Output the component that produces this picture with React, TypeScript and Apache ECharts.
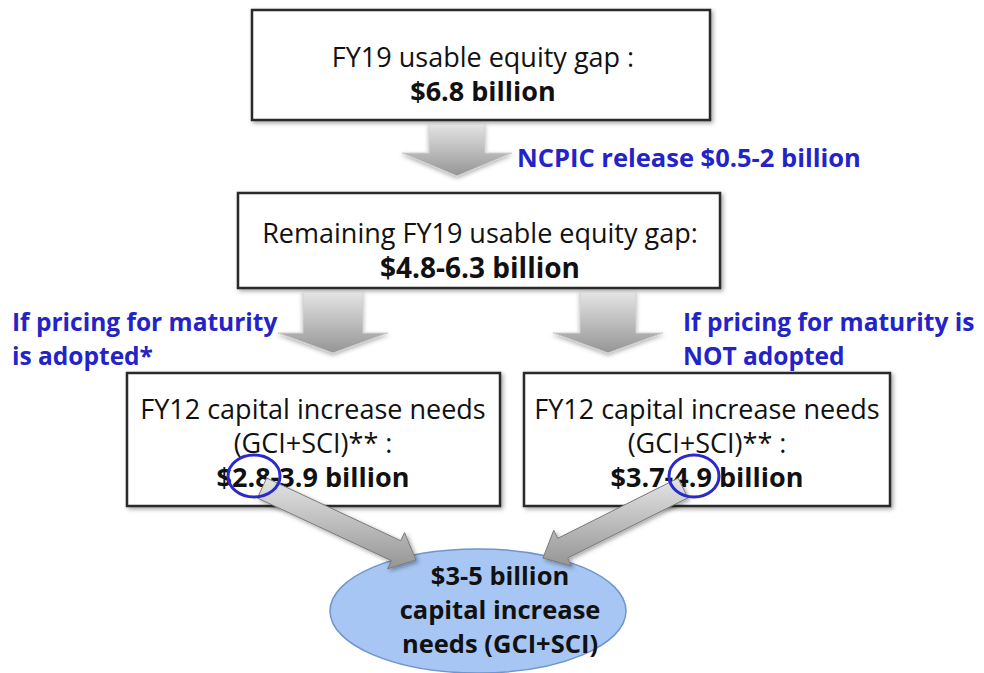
import React, { useEffect, useRef } from "react";
import * as echarts from "echarts";

const topBoxLines = ["FY19 usable equity gap :", "$6.8 billion"];
const midBoxLines = ["Remaining FY19 usable equity gap:", "$4.8-6.3 billion"];
const leftBoxLines = ["FY12 capital increase needs", "(GCI+SCI)** :", "$2.8-3.9 billion"];
const rightBoxLines = ["FY12 capital increase needs", "(GCI+SCI)** :", "$3.7-4.9 billion"];
const resultLines = ["$3-5 billion", "capital increase", "needs (GCI+SCI)"];
const releaseLabel = "NCPIC release $0.5-2 billion";
const leftBranchLines = ["If pricing for maturity", "is adopted*"];
const rightBranchLines = ["If pricing for maturity is", "NOT adopted"];

const FONT = "'Open Sans', Lato, sans-serif";
const BLUE = "#2323c8";

function txt(text: string, x: number, y: number, opts: any = {}) {
  return {
    type: "text",
    x,
    y,
    z: opts.z ?? 20,
    style: {
      text,
      fill: opts.fill ?? "#111",
      fontSize: opts.size ?? 27,
      fontWeight: opts.bold ? "bold" : "normal",
      fontFamily: FONT,
      align: opts.align ?? "center",
      verticalAlign: "middle",
      textAlign: opts.align ?? "center",
      textVerticalAlign: "middle",
    },
  };
}

function box(x: number, y: number, w: number, h: number) {
  return {
    type: "rect",
    z: 5,
    shape: { x, y, width: w, height: h },
    style: {
      fill: "#fff",
      stroke: "#2a2a2a",
      lineWidth: 2.5,
      shadowBlur: 4,
      shadowOffsetX: 2,
      shadowOffsetY: 2,
      shadowColor: "rgba(0,0,0,0.35)",
    },
  };
}

const grad = () =>
  new echarts.graphic.LinearGradient(0, 0, 0, 1, [
    { offset: 0, color: "#e4e4e4" },
    { offset: 0.5, color: "#bdbdbd" },
    { offset: 1, color: "#959595" },
  ]);

function downArrow(cx: number, top: number, shaftHalf: number, headTop: number, headHalf: number, tip: number) {
  return {
    type: "polygon",
    z: 8,
    shape: {
      points: [
        [cx - shaftHalf, top],
        [cx + shaftHalf, top],
        [cx + shaftHalf, headTop],
        [cx + headHalf, headTop],
        [cx, tip],
        [cx - headHalf, headTop],
        [cx - shaftHalf, headTop],
      ],
    },
    style: {
      fill: grad(),
      stroke: "#d0d0d0",
      lineWidth: 1,
      shadowBlur: 4,
      shadowOffsetY: 2,
      shadowColor: "rgba(0,0,0,0.3)",
    },
  };
}

function diagArrow(sx: number, sy: number, ex: number, ey: number, w: number, hw: number, hl: number) {
  const dx = ex - sx;
  const dy = ey - sy;
  const len = Math.sqrt(dx * dx + dy * dy);
  const ux = dx / len;
  const uy = dy / len;
  const nx = -uy;
  const ny = ux;
  const bx = ex - ux * hl;
  const by = ey - uy * hl;
  return {
    type: "polygon",
    z: 25,
    shape: {
      points: [
        [sx + nx * w, sy + ny * w],
        [bx + nx * w, by + ny * w],
        [bx + nx * hw, by + ny * hw],
        [ex, ey],
        [bx - nx * hw, by - ny * hw],
        [bx - nx * w, by - ny * w],
        [sx - nx * w, sy - ny * w],
      ],
    },
    style: {
      fill: grad(),
      stroke: "#7a7a7a",
      lineWidth: 1,
      shadowBlur: 4,
      shadowOffsetX: 2,
      shadowOffsetY: 2,
      shadowColor: "rgba(0,0,0,0.35)",
    },
  };
}

function circle(cx: number, cy: number, rx: number, ry: number) {
  return {
    type: "ellipse",
    z: 30,
    shape: { cx, cy, rx, ry },
    style: { fill: "none", stroke: "#2a2acc", lineWidth: 3 },
  };
}

export default function App() {
  const ref = useRef<HTMLDivElement>(null);
  useEffect(() => {
    if (!ref.current) return;
    const chart = echarts.init(ref.current, null, { renderer: "svg" });
    const elements: any[] = [];

    elements.push(box(252, 10, 458, 110));
    topBoxLines.forEach((t, i) => elements.push(txt(t, 483, 56 + i * 34, { bold: i === 1 })));

    elements.push(downArrow(457, 124, 28, 153, 55, 176));
    elements.push(txt(releaseLabel, 517, 157, { bold: true, fill: BLUE, align: "left", size: 25.5 }));

    elements.push(box(238, 193, 482, 95));
    midBoxLines.forEach((t, i) =>
      elements.push(txt(t, 480, 232 + i * 35, { bold: i === 1, size: i === 1 ? 28 : 27 }))
    );

    elements.push(downArrow(333, 292, 30, 333, 55, 353));
    elements.push(downArrow(608, 292, 28, 333, 55, 353));
    leftBranchLines.forEach((t, i) =>
      elements.push(txt(t, 12, 321 + i * 34, { bold: true, fill: BLUE, align: "left", size: 24.5 }))
    );
    rightBranchLines.forEach((t, i) =>
      elements.push(txt(t, 683, 321 + i * 34, { bold: true, fill: BLUE, align: "left", size: 24.5 }))
    );

    elements.push(box(127, 373, 373, 133));
    leftBoxLines.forEach((t, i) => elements.push(txt(t, 313, 408 + i * 34, { bold: i === 2 })));
    elements.push(box(524, 373, 366, 133));
    rightBoxLines.forEach((t, i) => elements.push(txt(t, 707, 408 + i * 34, { bold: i === 2 })));

    elements.push({
      type: "ellipse",
      z: 10,
      shape: { cx: 478, cy: 611, rx: 148, ry: 62 },
      style: { fill: "#a7c6f3", stroke: "#6f95cc", lineWidth: 1.5 },
    });
    resultLines.forEach((t, i) =>
      elements.push(txt(t, 500, 575 + i * 34, { bold: true, z: 40, size: 25.5 }))
    );

    elements.push(diagArrow(262, 488, 416, 560, 11, 20, 22));
    elements.push(diagArrow(683, 488, 543, 558, 11, 20, 22));

    elements.push(circle(254, 476, 26, 21));
    elements.push(circle(694, 476, 25, 21));

    chart.setOption({
      animation: false,
      backgroundColor: "#ffffff",
      graphic: { elements },
    });
    return () => chart.dispose();
  }, []);
  return (
    <div
      ref={ref}
      style={{ position: "absolute", left: 0, top: 0, width: 984, height: 673 }}
    />
  );
}
